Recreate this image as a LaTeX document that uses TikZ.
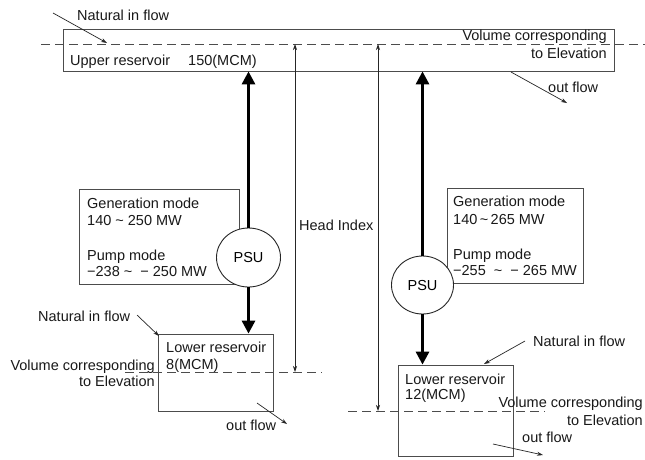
\documentclass[tikz,border=0pt]{standalone}
\usepackage{fontspec}
\setmainfont{Liberation Sans}
\usetikzlibrary{shapes.geometric,arrows.meta}
\newcommand{\tld}{{\char"7E}}
\begin{document}
\begin{tikzpicture}[x=1pt,y=-1pt,
 box/.style={draw=black!70, line width=0.8pt, inner sep=0pt, fill=white, rectangle},
 lbl/.style={inner sep=0pt, anchor=base west, font=\fontsize{14.5}{17}\selectfont, text=black!90},
 lblr/.style={lbl, anchor=base east},
 psu/.style={ellipse, draw=black!85, line width=0.9pt, fill=white, inner sep=0pt, font=\fontsize{14.5}{17}\selectfont},
 dashline/.style={draw=black!70, line width=0.9pt, dash pattern=on 9pt off 5pt},
 thickarrow/.style={line width=3pt, -{Triangle[length=13pt,width=13pt]}},
 thinarrow/.style={line width=0.7pt, draw=black!85, -{Stealth[length=6pt,width=4pt]}},
 headarrow/.style={line width=0.7pt, draw=black!85, {Stealth[length=6pt,width=4pt]}-{Stealth[length=6pt,width=4pt]}}]
\useasboundingbox (0,0) rectangle (645,459);
\fill[white] (0,0) rectangle (645,459);

% boxes
\node[box, minimum width=551pt, minimum height=42pt] (up) at (338.5,50) {};
\node[box, minimum width=115pt, minimum height=77pt] (lowL) at (215.5,372.5) {};
\node[box, minimum width=115pt, minimum height=91pt] (lowR) at (455.5,410.5) {};
\node[box, minimum width=160pt, minimum height=95pt] (genL) at (159,236.5) {};
\node[box, minimum width=136pt, minimum height=95pt] (genR) at (515,235.5) {};

% dashed elevation lines
\coordinate (dTa) at (41,44);   \coordinate (dTb) at (645,44);
\coordinate (dLa) at (125,372); \coordinate (dLb) at (322,372);
\coordinate (dRa) at (348,411); \coordinate (dRb) at (545,411);
\draw[dashline] (dTa) -- (dTb);
\draw[dashline] (dLa) -- (dLb);
\draw[dashline] (dRa) -- (dRb);

% PSU units
\node[psu, minimum width=64pt, minimum height=59pt] (psuL) at (248.5,257.5) {PSU};
\node[psu, minimum width=62pt, minimum height=58pt] (psuR) at (422.5,285) {PSU};

% thick flow arrows
\draw[thickarrow] (psuL.north) -- (psuL.north |- up.south);
\draw[thickarrow] (psuL.south) -- (psuL.south |- lowL.north);
\draw[thickarrow] (psuR.north) -- (psuR.north |- up.south);
\draw[thickarrow] (psuR.south) -- (psuR.south |- lowR.north);

% head arrows
\coordinate (h1t) at (295,44);  \coordinate (h1b) at (295,372);
\coordinate (h2t) at (378,44);  \coordinate (h2b) at (378,411);
\draw[headarrow] (h1t) -- (h1b);
\draw[headarrow] (h2t) -- (h2b);

% in/out flow arrows
\coordinate (inTa) at (53,13);   \coordinate (inTb) at (107,43);
\coordinate (outTa) at (511,72); \coordinate (outTb) at (567,103);
\coordinate (inLa) at (137,315); \coordinate (inLb) at (159,336);
\coordinate (outLa) at (257,403);\coordinate (outLb) at (287,424);
\coordinate (inRa) at (525,341); \coordinate (inRb) at (484,364);
\coordinate (outRa) at (493,444);\coordinate (outRb) at (543,455);
\draw[thinarrow] (inTa) -- (inTb);
\draw[thinarrow] (outTa) -- (outTb);
\draw[thinarrow] (inLa) -- (inLb);
\draw[thinarrow] (outLa) -- (outLb);
\draw[thinarrow] (inRa) -- (inRb);
\draw[thinarrow] (outRa) -- (outRb);

% labels: upper reservoir
\node[lbl] (tInT) at (77,20.7) {Natural in flow};
\node[lbl] (tUp) at (70,65.5) {Upper reservoir};
\node[lbl] (tUpV) at (188,65.5) {150(MCM)};
\node[lblr] (tVolT1) at (607,40.7) {Volume corresponding};
\node[lblr] (tVolT2) at (607,58.3) {to Elevation};
\node[lbl] (tOutT) at (548,92.7) {out flow};
\node[lbl] (tHead) at (299,230) {Head Index};

% generation box left
\node[lbl] (gL1) at (87,208) {Generation mode};
\node[lbl] (gL2) at (87,225.3) {140 \tld{} 250 MW};
\node[lbl] (gL3) at (87,260) {Pump mode};
\node[lbl] (gL4) at (87,276.7) {−238 \tld{} \ − 250 MW};

% generation box right
\node[lbl] (gR1) at (453,206.7) {Generation mode};
\node[lbl] (gR2) at (453,224.3) {140\,\tld\,265 MW};
\node[lbl] (gR3) at (453,259) {Pump mode};
\node[lbl] (gR4) at (453,275.7) {−255 \ \tld{} \ − 265 MW};

% lower left reservoir
\node[lbl] (tInL) at (38,321.7) {Natural in flow};
\node[lbl] (tLowL1) at (166,352.3) {Lower reservoir};
\node[lbl] (tLowL2) at (166,369.3) {8(MCM)};
\node[lblr] (tVolL1) at (155,370.7) {Volume corresponding};
\node[lblr] (tVolL2) at (155,386.7) {to Elevation};
\node[lbl] (tOutL) at (226,430.7) {out flow};

% lower right reservoir
\node[lbl] (tInR) at (533,346) {Natural in flow};
\node[lbl] (tLowR1) at (405,384) {Lower reservoir};
\node[lbl] (tLowR2) at (405,399.3) {12(MCM)};
\node[lblr] (tVolR1) at (643,407.7) {Volume corresponding};
\node[lblr] (tVolR2) at (643,425.3) {to Elevation};
\node[lbl] (tOutR) at (522,442.7) {out flow};
\end{tikzpicture}
\end{document}
